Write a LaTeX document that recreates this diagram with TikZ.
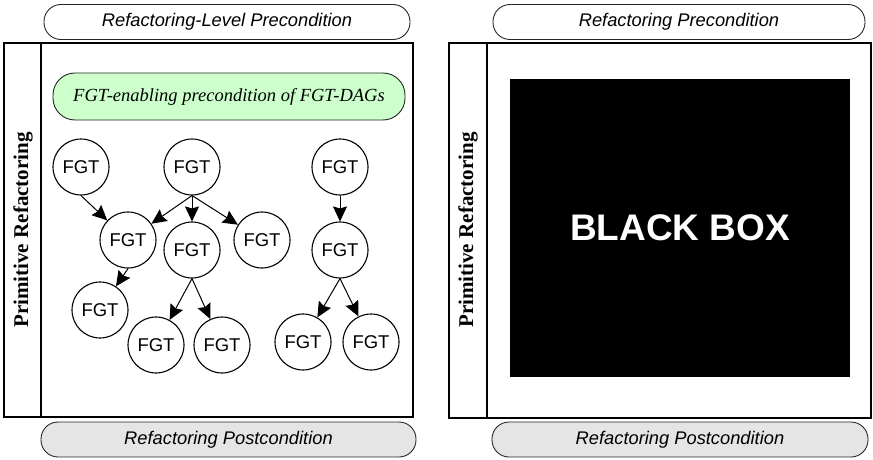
\documentclass[tikz,border=0pt]{standalone}
\usepackage{fontspec}
\setmainfont{Liberation Serif}
\setsansfont{Liberation Sans}
\usetikzlibrary{arrows.meta}

\tikzset{
  fgt/.style={draw,circle,minimum size=56pt,inner sep=0pt,line width=1.1pt,
    font=\sffamily\fontsize{18.5}{20}\selectfont},
  pill/.style={draw=black!85,rounded corners=17pt,line width=0.9pt,minimum height=35pt,
    inner sep=0pt,font=\sffamily\itshape\fontsize{18.3}{20}\selectfont},
  side/.style={rotate=90,font=\bfseries\fontsize{21}{24}\selectfont},
  frame/.style={line width=1.3pt},
  dag/.style={->,line width=1pt},
}

\begin{document}
\begin{tikzpicture}[x=1pt,y=-1pt,>={Stealth[length=15pt,width=14pt,inset=2pt]}]
    \useasboundingbox (0,0) rectangle (873,460);
    % left panel
    \node[pill,fill=white,minimum width=366pt] (preL) at (227,22) {Refactoring-Level Precondition};
    \draw[frame] (4,43) rectangle (413,417);
    \draw[frame] (41,43) -- (41,417);
    \node[side] (sideL) at (23,230) {Primitive Refactoring};
    \node[pill,fill=green!20,minimum width=352pt,minimum height=47pt,rounded corners=22pt,
      font=\itshape\fontsize{18.5}{20}\selectfont] (enab) at (229,96.5) {FGT-enabling precondition of FGT-DAGs};
    \node[pill,fill=black!10,minimum width=375pt] (postL) at (228.5,439.5) {Refactoring Postcondition};
    % FGT-DAGs
    \node[fgt] (a) at (81,167) {FGT};
    \node[fgt] (b) at (192,167) {FGT};
    \node[fgt] (c) at (340,167) {FGT};
    \node[fgt] (d) at (128,240) {FGT};
    \node[fgt] (e) at (192,250) {FGT};
    \node[fgt] (f) at (262,240) {FGT};
    \node[fgt] (g) at (340,250) {FGT};
    \node[fgt] (h) at (100,310) {FGT};
    \node[fgt] (i) at (156,345) {FGT};
    \node[fgt] (j) at (222,345) {FGT};
    \node[fgt] (k) at (303,342) {FGT};
    \node[fgt] (l) at (371,342) {FGT};
    \draw[dag] (a.south) -- (d);
    \draw[dag] (b.south) -- (d);
    \draw[dag] (b.south) -- (e);
    \draw[dag] (b.south) -- (f);
    \draw[dag] (c) -- (g);
    \draw[dag] (d.south) -- (h);
    \draw[dag] (e.south) -- (i);
    \draw[dag] (e.south) -- (j);
    \draw[dag] (g.south) -- (k);
    \draw[dag] (g.south) -- (l);
    % right panel
    \node[pill,fill=white,minimum width=372pt] (preR) at (679,22) {Refactoring Precondition};
    \draw[frame] (449,43) rectangle (871,418);
    \draw[frame] (487,43) -- (487,418);
    \node[side] (sideR) at (468,230) {Primitive Refactoring};
    \node[fill=black,text=white,minimum width=340pt,minimum height=298pt,inner sep=0pt,
      font=\sffamily\bfseries\fontsize{37}{40}\selectfont] (bbox) at (680,228) {BLACK BOX};
    \node[pill,fill=black!10,minimum width=376pt] (postR) at (680,439.5) {Refactoring Postcondition};
\end{tikzpicture}
\end{document}
